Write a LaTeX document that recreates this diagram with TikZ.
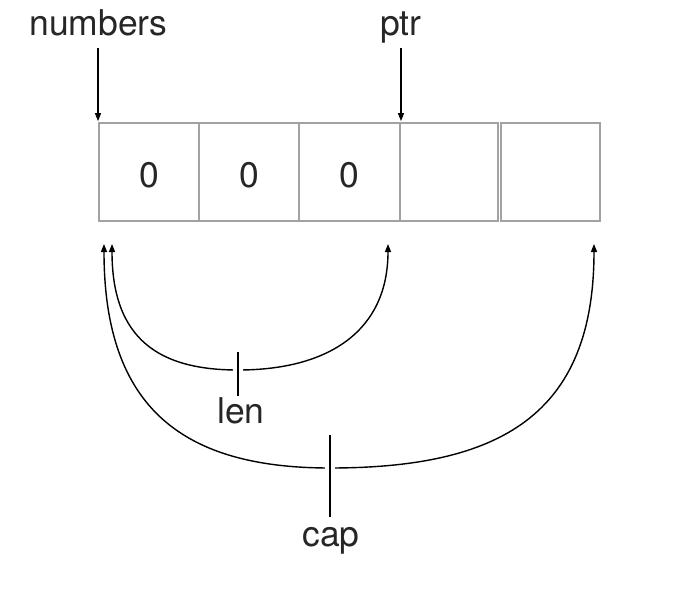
\documentclass[tikz,border=0pt]{standalone}
\usepackage{fontspec}
\setmainfont{TeX Gyre Heros}
\usetikzlibrary{arrows.meta}
\definecolor{cellgray}{HTML}{A2A2A2}
\begin{document}
\begin{tikzpicture}[x=1pt,y=-1pt,
  cell/.style={draw=cellgray, line width=1.8pt, minimum width=#1, minimum height=98pt, inner sep=0pt, anchor=center},
  lbl/.style={font=\fontsize{35.5}{40}\selectfont, inner sep=0pt, anchor=base, text=black!85},
  arr/.style={-{Triangle[length=8pt,width=6pt]}, line width=1.2pt},
  curve/.style={{Triangle[length=8pt,width=6pt]}-{Triangle[length=8pt,width=6pt]}, line width=1.4pt},
  halo/.style={draw=white, line width=10pt},
  tick/.style={line width=1.5pt}]
\useasboundingbox[fill=white] (0,0) rectangle (691,595);
% cells
\node[cell=100pt] (c1) at (149,172) {};
\node[cell=100pt] (c2) at (249,172) {};
\node[cell=100pt] (c3) at (349.5,172) {};
\node[cell=98pt]  (c4) at (449,172) {};
\node[cell=99pt]  (c5) at (550.5,172) {};
\node[lbl] (z1) at (149,187) {0};
\node[lbl] (z2) at (249,187) {0};
\node[lbl] (z3) at (349,187) {0};
% top labels
\node[lbl] (numbers) at (98.5,35) {numbers};
\node[lbl] (ptr) at (401,35) {ptr};
\coordinate (numtop) at (98,48);
\coordinate (ptrtop) at (401,48);
\draw[arr] (numtop) -- ([yshift=1pt]numtop |- c1.north);
\draw[arr] (ptrtop) -- ([yshift=1pt]ptrtop |- c4.north);
% curves
\coordinate (capL) at (104,244);
\coordinate (lenL) at (112,244);
\coordinate (lenR) at (388,244);
\coordinate (capR) at (594,244);
\coordinate (lenB) at (238,370);
\coordinate (capB) at (330,468);
\draw[curve] (lenL) .. controls (112,340) and (160,370) .. (lenB)
             .. controls (330,370) and (388,330) .. (lenR);
\draw[curve] (capL) .. controls (104,410) and (185,468) .. (capB)
             .. controls (500,468) and (594,415) .. (capR);
% ticks and labels
\node[lbl] (len) at (241,423) {len};
\node[lbl] (cap) at (331,546) {cap};
\coordinate (lenT1) at (238,352);
\coordinate (lenT2) at (238,396);
\coordinate (capT1) at (330,435);
\coordinate (capT2) at (330,517);
\draw[halo] (lenT1) -- (lenT2);
\draw[tick] (lenT1) -- (lenT2);
\draw[halo] (capT1) -- (capT2);
\draw[tick] (capT1) -- (capT2);
\end{tikzpicture}
\end{document}
